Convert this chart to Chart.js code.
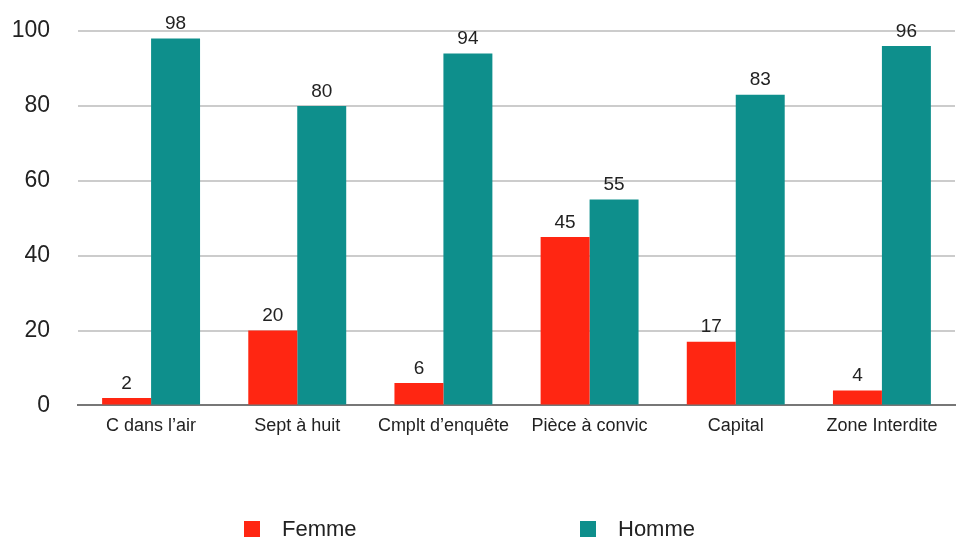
<!DOCTYPE html>
<html>
<head>
<meta charset="utf-8">
<script src="https://cdn.jsdelivr.net/npm/chart.js@4"></script>
<style>
  body { margin: 0; background: #fff; }
  #wrap { position: relative; width: 957px; height: 540px; }
  #legend { position: absolute; top: 516px; left: 0; width: 957px; height: 26px;
    font-family: 'Liberation Sans', Arial, sans-serif; font-size: 22px; color: #222; }
  .item { position: absolute; top: 0; display: flex; align-items: center; }
  .box { width: 16px; height: 16px; margin-right: 22px; }
</style>
</head>
<body>
<div id="wrap">
  <canvas id="myChart" width="957" height="540"></canvas>
  <div id="legend"></div>
</div>
<script>
var categories = ['C dans l\u2019air', 'Sept \u00e0 huit', 'Cmplt d\u2019enqu\u00eate', 'Pi\u00e8ce \u00e0 convic', 'Capital', 'Zone Interdite'];
var femmeValues = [2, 20, 6, 45, 17, 4];
var hommeValues = [98, 80, 94, 55, 83, 96];
var seriesNames = ['Femme', 'Homme'];
var seriesColors = ['#ff2612', '#0e8f8c'];

// value labels above each bar
var valueLabels = {
    id: 'valueLabels',
    afterDatasetsDraw: function (chart) {
        var ctx = chart.ctx;
        ctx.save();
        ctx.font = '19px "Liberation Sans", Arial, sans-serif';
        ctx.fillStyle = '#222';
        ctx.textAlign = 'center';
        ctx.textBaseline = 'bottom';
        chart.data.datasets.forEach(function (ds, i) {
            chart.getDatasetMeta(i).data.forEach(function (bar, j) {
                ctx.fillText(ds.data[j], bar.x, bar.y - 5);
            });
        });
        ctx.restore();
    }
};

var ctx = document.getElementById('myChart').getContext('2d');
var myChart = new Chart(ctx, {
    type: 'bar',
    data: {
        labels: categories,
        datasets: [{
            label: seriesNames[0],
            data: femmeValues,
            backgroundColor: seriesColors[0],
            barPercentage: 1,
            categoryPercentage: 0.67
        }, {
            label: seriesNames[1],
            data: hommeValues,
            backgroundColor: seriesColors[1],
            barPercentage: 1,
            categoryPercentage: 0.67
        }]
    },
    options: {
        responsive: false,
        animation: false,
        layout: { padding: { top: 31, left: 8, right: 2, bottom: 93 } },
        scales: {
            y: {
                min: 0,
                max: 100,
                afterFit: function (scale) {
                    scale.width = 70;
                    scale.paddingTop = 0;
                    scale.paddingBottom = 0;
                },
                ticks: {
                    stepSize: 20,
                    padding: 28,
                    color: '#222',
                    font: { family: '"Liberation Sans", Arial, sans-serif', size: 23 }
                },
                grid: { color: '#cccccc', lineWidth: 2, drawTicks: false },
                border: { display: false }
            },
            x: {
                ticks: {
                    padding: 10,
                    color: '#222',
                    font: { family: '"Liberation Sans", Arial, sans-serif', size: 18 }
                },
                grid: { display: false, drawTicks: false },
                border: { display: true, color: '#777777', width: 2 }
            }
        },
        plugins: {
            legend: { display: false },
            tooltip: { enabled: false }
        }
    },
    plugins: [valueLabels]
});

var legendEl = document.getElementById('legend');
var legendX = [244, 580];
seriesNames.forEach(function (name, i) {
    var item = document.createElement('div');
    item.className = 'item';
    item.style.left = legendX[i] + 'px';
    item.innerHTML = '<div class="box" style="background:' + seriesColors[i] + '"></div><span>' + name + '</span>';
    legendEl.appendChild(item);
});
</script>
</body>
</html>
